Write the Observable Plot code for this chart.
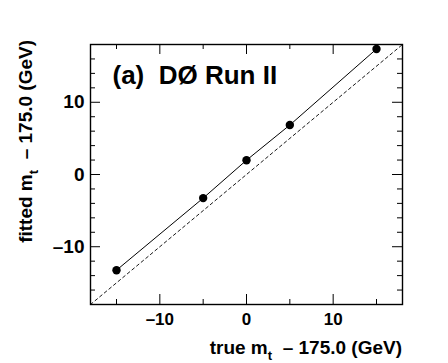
<!DOCTYPE html>
<html><head><meta charset="utf-8">
<script src="https://cdn.jsdelivr.net/npm/d3@7"></script>
<script src="https://cdn.jsdelivr.net/npm/@observablehq/plot@0.6"></script>
<style>
html,body{margin:0;padding:0;background:#fff;}
svg{font-family:"Liberation Sans",Arial,sans-serif;font-weight:bold;}
</style></head><body>
<div id="chart"></div>
<script>
const trueMt = [-15, -5, 0, 5, 15];
const fittedMt = [-13.25, -3.27, 1.98, 6.85, 17.38];
const diagonal = [-18, 18];
const xTicks = [-10, 0, 10];
const yTicks = [-10, 0, 10];
const xMinor = [-15, -5, 5, 15];
const yMinor = [-16, -14, -12, -8, -6, -4, -2, 2, 4, 6, 8, 12, 14, 16];
const title = "(a)\u00a0\u00a0DØ Run II";

const points = trueMt.map((x, i) => ({x, y: fittedMt[i]}));
const W = 448, H = 363, mL = 90, mR = 46, mT = 44, mB = 59;
const iw = W - mL - mR, ih = H - mT - mB;
const fmt = d => d < 0 ? "–" + (-d) : String(d);

const plot = Plot.plot({
  width: W, height: H,
  marginLeft: mL, marginRight: mR, marginTop: mT, marginBottom: mB,
  x: {domain: [-18, 18]},
  y: {domain: [-18, 18]},
  style: {fontFamily: "Liberation Sans, Arial, sans-serif", fontWeight: "bold", background: "white"},
  marks: [
    Plot.line(diagonal.map(d => ({x: d, y: d})), {x: "x", y: "y", stroke: "black", strokeWidth: 0.9, strokeDasharray: "3,3"}),
    Plot.line(points, {x: "x", y: "y", stroke: "black", strokeWidth: 1}),
    Plot.dot(points, {x: "x", y: "y", r: 4.2, fill: "black"}),
    Plot.tickX(xTicks, {x: d => d, insetTop: ih - 10, stroke: "black", strokeWidth: 1}),
    Plot.tickX(xTicks, {x: d => d, insetBottom: ih - 10, stroke: "black", strokeWidth: 1}),
    Plot.tickY(yTicks, {y: d => d, insetRight: iw - 10, stroke: "black", strokeWidth: 1}),
    Plot.tickY(yTicks, {y: d => d, insetLeft: iw - 10, stroke: "black", strokeWidth: 1}),
    Plot.tickX(xMinor, {x: d => d, insetTop: ih - 5, stroke: "black", strokeWidth: 1}),
    Plot.tickX(xMinor, {x: d => d, insetBottom: ih - 5, stroke: "black", strokeWidth: 1}),
    Plot.tickY(yMinor, {y: d => d, insetRight: iw - 5, stroke: "black", strokeWidth: 1}),
    Plot.tickY(yMinor, {y: d => d, insetLeft: iw - 5, stroke: "black", strokeWidth: 1}),
    Plot.axisX(xTicks, {tickSize: 0, tickPadding: 8, fontSize: 17, fontWeight: "bold", label: null, tickFormat: fmt}),
    Plot.axisY(yTicks, {tickSize: 0, tickPadding: 6, fontSize: 19, fontWeight: "bold", label: null, tickFormat: fmt}),
    Plot.frame({stroke: "black", strokeWidth: 1.4}),
    Plot.text([title], {text: d => d, frameAnchor: "top-left", textAnchor: "start", lineAnchor: "middle", dx: 22, dy: 31, fontSize: 26, fontWeight: "bold", fill: "black"})
  ]
});

const svg = d3.select(plot);
const xl = svg.append("text").attr("x", 402).attr("y", 354).attr("text-anchor", "end")
  .attr("font-size", 19).attr("font-weight", "bold").attr("fill", "black");
xl.append("tspan").text("true m");
xl.append("tspan").attr("dy", 6).attr("font-size", 13).text("t");
xl.append("tspan").attr("dy", -6).text("\u00a0\u00a0– 175.0 (GeV)");
const yl = svg.append("text").attr("transform", "translate(32,40) rotate(-90)").attr("text-anchor", "end")
  .attr("font-size", 19).attr("font-weight", "bold").attr("fill", "black");
yl.append("tspan").text("fitted m");
yl.append("tspan").attr("dy", 6).attr("font-size", 13).text("t");
yl.append("tspan").attr("dy", -6).text("\u00a0\u00a0– 175.0 (GeV)");

document.getElementById("chart").appendChild(plot);
</script>
</body></html>
